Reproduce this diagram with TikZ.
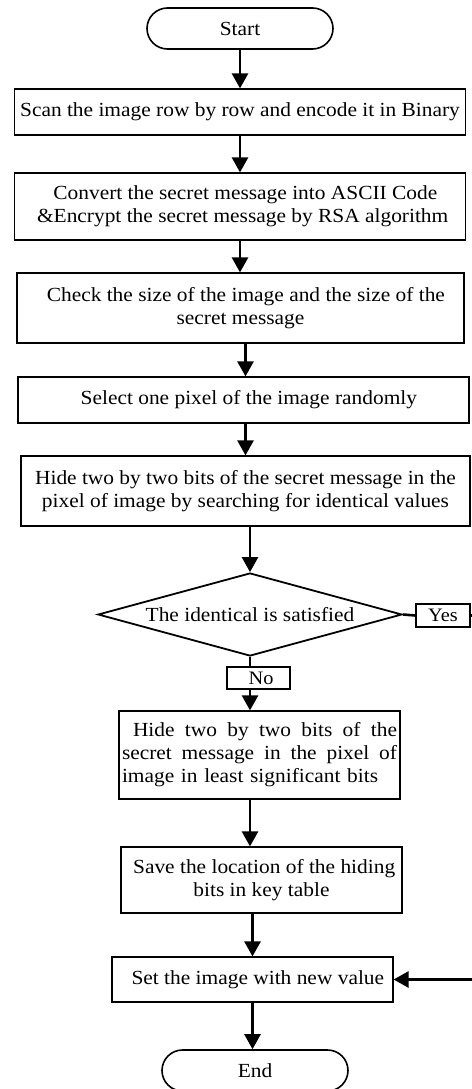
\documentclass[tikz,border=0pt]{standalone}
\usepackage{fontspec}
\setmainfont{Liberation Serif}[FakeStretch=1.07]
\usetikzlibrary{shapes.geometric,shapes.misc,arrows.meta}
\begin{document}
\begin{tikzpicture}[x=1pt,y=-1pt,
  every node/.style={font=\fontsize{20}{23}\selectfont},
  proc/.style={draw,line width=1.2pt,rectangle,inner sep=0pt,align=center},
  term/.style={draw,line width=1.6pt,rounded rectangle,inner sep=0pt},
  dec/.style={draw,line width=1.8pt,diamond,inner sep=0pt,aspect=3.6},
  lbl/.style={draw,line width=1.2pt,rectangle,inner sep=0pt,font=\fontsize{19}{22}\selectfont},
  flow/.style={line width=2.6pt,-{Triangle[length=15pt,width=16pt]}},
  link/.style={line width=2.6pt}]
\useasboundingbox (0,0) rectangle (471,1089);

\node[term,minimum width=186pt,minimum height=41pt] (start) at (240,28.5) {Start};
\node[proc,minimum width=451pt,minimum height=46pt] (scan) at (240,112) {Scan the image row by row and encode it in Binary};
\node[proc,minimum width=451pt,minimum height=67pt] (conv) at (240,206.5) {\ \ Convert the secret message into ASCII Code\\ \ \&Encrypt the secret message by RSA algorithm};
\node[proc,minimum width=447pt,minimum height=70pt] (check) at (240.5,308) {\ \ Check the size of the image and the size of the\\secret message};
\node[proc,minimum width=451pt,minimum height=46pt] (sel) at (243.5,400) {\ \ Select one pixel of the image randomly};
\node[proc,minimum width=449pt,minimum height=70pt] (hide) at (245.5,491) {Hide two by two bits of the secret message in the\\pixel of image by searching for identical values};
\node[dec,minimum width=304pt,minimum height=83pt] (dec) at (250,614.5) {The identical is satisfied};
\node[lbl,minimum width=54pt,minimum height=23pt] (yes) at (443,615.5) {Yes};
\node[lbl,minimum width=63pt,minimum height=22pt] (no) at (258.5,678) {\ No};
\node[proc,minimum width=281pt,minimum height=88pt,text width=275pt,align=left] (lsb) at (259.5,755)
  {\makebox[275pt][s]{\hspace*{11pt}Hide\hfill two\hfill by\hfill two\hfill bits\hfill of\hfill the}\\
   \makebox[275pt][s]{secret\hfill message\hfill in\hfill the\hfill pixel\hfill of}\\
   image in least significant bits};
\node[proc,minimum width=281pt,minimum height=66pt] (save) at (261.5,880) {\ Save the location of the hiding\\bits in key table};
\node[proc,minimum width=281pt,minimum height=45pt] (set) at (252.5,979.5) {\ \ Set the image with new value};
\node[term,minimum width=186pt,minimum height=41pt] (end) at (255,1070.5) {End};

\coordinate (ryes) at (474,615.5);
\coordinate (rset) at (474,979.5);

\draw[flow] (start.south) -- (scan.north);
\draw[flow] (scan.south) -- (conv.north);
\draw[flow] (conv.south) -- (conv.south |- check.north);
\draw[flow] ([xshift=2pt]sel.north |- check.south) -- ([xshift=2pt]sel.north);
\draw[flow] (sel.south -| hide.north) -- (hide.north);
\draw[flow] (hide.south -| dec.north) -- (dec.north);
\draw[link] (dec.south) -- (dec.south |- no.north);
\draw[flow] (dec.south |- no.south) -- (dec.south |- lsb.north);
\draw[flow] (dec.south |- lsb.south) -- (dec.south |- save.north);
\draw[flow] (set.north |- save.south) -- (set.north);
\draw[flow] (set.south) -- (set.south |- end.north);
\draw[link] (dec.east) -- (yes.west);
\draw[link] (yes.east) -- (ryes) -- (rset);
\draw[flow] (rset) -- (set.east);
\end{tikzpicture}
\end{document}
